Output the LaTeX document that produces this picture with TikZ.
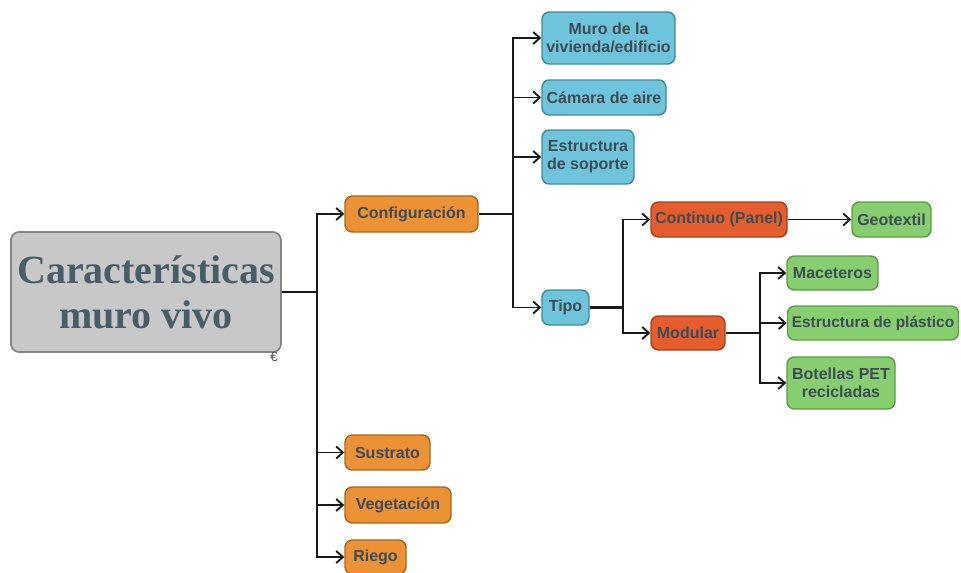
\documentclass[tikz,border=0pt]{standalone}
\usepackage{fontspec}
\setmainfont{Liberation Serif}
\newfontfamily\labfont{Liberation Sans}
\usetikzlibrary{arrows.meta}
\definecolor{txt}{HTML}{3E4C56}
\definecolor{maintxt}{HTML}{485D68}
\definecolor{orfill}{HTML}{EC9234}
\definecolor{ordraw}{HTML}{A8671E}
\definecolor{blfill}{HTML}{6EC4DA}
\definecolor{bldraw}{HTML}{3C8CA0}
\definecolor{rdfill}{HTML}{E55D2D}
\definecolor{rddraw}{HTML}{A8401C}
\definecolor{grfill}{HTML}{86CE6E}
\definecolor{grdraw}{HTML}{5B9E45}
\definecolor{gyfill}{HTML}{C8C8C8}
\definecolor{gydraw}{HTML}{858585}
\tikzset{
  box/.style={rectangle, rounded corners=5.5pt, line width=1.1pt, inner sep=0pt,
    align=center, text=txt, font=\labfont\bfseries\fontsize{12}{13.5}\selectfont},
  orbox/.style={box, fill=orfill, draw=ordraw},
  blbox/.style={box, fill=blfill, draw=bldraw},
  rdbox/.style={box, fill=rdfill, draw=rddraw},
  grbox/.style={box, fill=grfill, draw=grdraw},
  arr/.style={draw=black!90, line width=1.35pt, -{Straight Barb[length=5pt,width=9pt,line width=1.4pt]}},
  ln/.style={draw=black!90, line width=1.7pt},
}
\begin{document}
\begin{tikzpicture}[x=0.75pt,y=-0.75pt]
\useasboundingbox (0,0) rectangle (961,572);
% nodes
\node[rectangle, rounded corners=6pt, fill=gyfill, draw=gydraw, line width=1.3pt,
  minimum width=270*0.75pt, minimum height=120*0.75pt, inner sep=0pt, align=center,
  text=maintxt, font=\bfseries\fontsize{30}{33.75}\selectfont] (main) at (146,292)
  {Características\\muro vivo};
\node[font=\labfont\fontsize{10}{10}\selectfont, text=black!70] (mark) at (274,357) {€};

\node[orbox, minimum width=133*0.75pt, minimum height=36*0.75pt] (conf) at (411.5,214) {Configuración};
\node[orbox, minimum width=85*0.75pt, minimum height=35*0.75pt] (sus) at (387.5,452.5) {Sustrato};
\node[orbox, minimum width=106*0.75pt, minimum height=36*0.75pt] (veg) at (398,505) {Vegetación};
\node[orbox, minimum width=61*0.75pt, minimum height=34*0.75pt] (rie) at (375.5,557) {Riego};

\node[blbox, minimum width=133*0.75pt, minimum height=52*0.75pt] (muro) at (608.5,38) {Muro de la\\vivienda/edificio};
\node[blbox, minimum width=124*0.75pt, minimum height=35*0.75pt] (cam) at (604,97.5) {Cámara de aire};
\node[blbox, minimum width=92*0.75pt, minimum height=54*0.75pt] (est) at (588,157) {Estructura\\de soporte};
\node[blbox, minimum width=47*0.75pt, minimum height=35*0.75pt] (tipo) at (565.5,307.5) {Tipo};

\node[rdbox, minimum width=136*0.75pt, minimum height=35*0.75pt] (cont) at (719,219.5) {Continuo (Panel)};
\node[rdbox, minimum width=74*0.75pt, minimum height=34*0.75pt] (mod) at (688,333) {Modular};

\node[grbox, minimum width=79*0.75pt, minimum height=35*0.75pt] (geo) at (891.5,219.5) {Geotextil};
\node[grbox, minimum width=91*0.75pt, minimum height=34*0.75pt] (mac) at (832.5,273) {Maceteros};
\node[grbox, minimum width=171*0.75pt, minimum height=34*0.75pt] (pla) at (873,323) {\fontsize{11.6}{13.5}\selectfont Estructura de plástico};
\node[grbox, minimum width=108*0.75pt, minimum height=52*0.75pt] (bot) at (841,383) {Botellas PET\\recicladas};

% buses
\coordinate (b1) at (317,292);
\coordinate (b2) at (513,214);
\coordinate (b3) at (623,307.5);
\coordinate (b4) at (760,333);

\draw[ln] (main.east) -- (b1);
\foreach \t in {conf,sus,veg,rie} \draw[arr] (b1) |- (\t.west);
\draw[ln] (conf.east) -- (b2);
\foreach \t in {muro,cam,est,tipo} \draw[arr] (b2) |- (\t.west);
\draw[ln] (tipo.east) -- (b3);
\foreach \t in {cont,mod} \draw[arr] (b3) |- (\t.west);
\draw[arr] (cont.east) -- (geo.west);
\draw[ln] (mod.east) -- (b4);
\foreach \t in {mac,pla,bot} \draw[arr] (b4) |- (\t.west);
\end{tikzpicture}
\end{document}
